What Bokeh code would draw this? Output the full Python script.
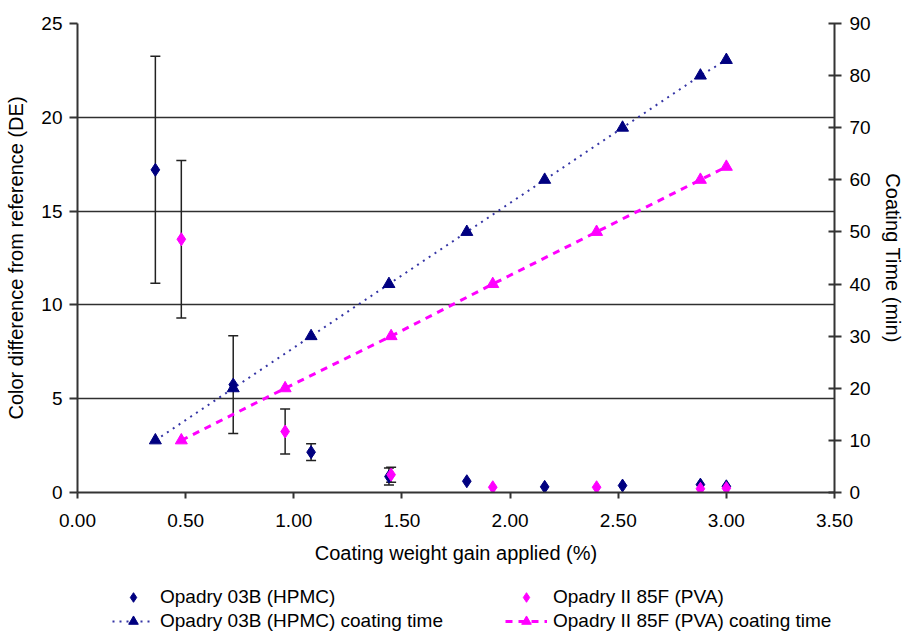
from bokeh.plotting import figure
from bokeh.layouts import column
from bokeh.models import (Range1d, LinearAxis, FixedTicker, NumeralTickFormatter,
                          ColumnDataSource, Whisker, TeeHead, Legend, LegendItem)
from bokeh.embed import file_html
from bokeh.resources import INLINE

FONT = "Liberation Sans"

# ---------------- data ----------------
x_ticks = [0.0, 0.5, 1.0, 1.5, 2.0, 2.5, 3.0, 3.5]
de_ticks = [0, 5, 10, 15, 20, 25]
time_ticks = [0, 10, 20, 30, 40, 50, 60, 70, 80, 90]

hpmc_x = [0.36, 0.72, 1.08, 1.44, 1.80, 2.16, 2.52, 2.88, 3.00]
hpmc_de = [17.2, 5.75, 2.15, 0.85, 0.60, 0.30, 0.37, 0.42, 0.33]
hpmc_err = [6.05, 2.6, 0.45, 0.45, 0.0, 0.0, 0.0, 0.0, 0.0]
hpmc_time = [10, 20, 30, 40, 50, 60, 70, 80, 83]

pva_x = [0.48, 0.96, 1.45, 1.92, 2.40, 2.88, 3.00]
pva_de = [13.5, 3.25, 0.95, 0.28, 0.28, 0.20, 0.23]
pva_err = [4.2, 1.2, 0.4, 0.0, 0.0, 0.0, 0.0]
pva_time = [10, 20, 30, 40, 50, 60, 62.5]

labels = ["Opadry 03B (HPMC)", "Opadry II 85F (PVA)",
          "Opadry 03B (HPMC) coating time", "Opadry II 85F (PVA) coating time"]

NAVY = "#000080"
MAG = "#FF00FF"
AX = "#333333"
HPMC_LINE = dict(line_color="#3535a5", line_width=2, line_dash="2 5")
PVA_LINE = dict(line_color=MAG, line_width=3, line_dash="7 6")

# ---------------- main chart ----------------
p = figure(width=906, height=570, output_backend="svg", toolbar_location=None,
           x_range=Range1d(0, 3.5), y_range=Range1d(0, 25),
           min_border_left=77, min_border_right=68, min_border_top=23,
           min_border_bottom=78)
p.extra_y_ranges = {"time": Range1d(0, 90)}
p.outline_line_color = None
p.xgrid.visible = False
p.ygrid.ticker = FixedTicker(ticks=de_ticks)
p.ygrid.grid_line_color = "#303030"
p.ygrid.grid_line_width = 1.5

raxis = LinearAxis(y_range_name="time")
p.add_layout(raxis, "right")

xa = p.xaxis[0]
ya = p.yaxis[0]
xa.ticker = FixedTicker(ticks=x_ticks)
xa.formatter = NumeralTickFormatter(format="0.00")
ya.ticker = FixedTicker(ticks=de_ticks)
raxis.ticker = FixedTicker(ticks=time_ticks)

for ax in (xa, ya, raxis):
    ax.axis_line_color = AX
    ax.axis_line_width = 2
    ax.major_tick_line_color = AX
    ax.major_tick_line_width = 2
    ax.minor_tick_line_color = None
    ax.major_label_text_font = FONT
    ax.major_label_text_font_size = "19px"
    ax.major_label_text_color = "black"
    ax.axis_label_text_font = FONT
    ax.axis_label_text_font_size = "20px"
    ax.axis_label_text_font_style = "normal"
    ax.axis_label_text_color = "black"

xa.major_tick_out = 6
xa.major_tick_in = 0
xa.major_label_standoff = 15
xa.axis_label = "Coating weight gain applied (%)"
xa.axis_label_standoff = 12

ya.major_tick_out = 8
ya.major_tick_in = 0
ya.major_label_standoff = 7
ya.axis_label = "Color difference from reference (DE)"
ya.axis_label_standoff = 11

raxis.major_tick_out = 7
raxis.major_tick_in = 6
raxis.major_label_standoff = 8
raxis.axis_label = "Coating Time (min)"
raxis.axis_label_standoff = 8

p.line(hpmc_x, hpmc_time, y_range_name="time", **HPMC_LINE)
p.line(pva_x, pva_time, y_range_name="time", **PVA_LINE)
p.scatter(hpmc_x, hpmc_time, y_range_name="time", marker="triangle", size=12, color=NAVY)
p.scatter(pva_x, pva_time, y_range_name="time", marker="triangle", size=12, color=MAG)


def err_source(xs, ys, es):
    keep = [i for i, e in enumerate(es) if e > 0]
    return ColumnDataSource(dict(
        x=[xs[i] for i in keep],
        upper=[ys[i] + es[i] for i in keep],
        lower=[ys[i] - es[i] for i in keep]))


for src in (err_source(hpmc_x, hpmc_de, hpmc_err), err_source(pva_x, pva_de, pva_err)):
    w = Whisker(source=src, base="x", upper="upper", lower="lower",
                line_color="#222222", line_width=1.5,
                upper_head=TeeHead(size=10, line_color="#222222", line_width=1.5),
                lower_head=TeeHead(size=10, line_color="#222222", line_width=1.5))
    p.add_layout(w)

p.scatter(hpmc_x, hpmc_de, marker="diamond", size=13, color=NAVY)
p.scatter(pva_x, pva_de, marker="diamond", size=13, color=MAG)

# ---------------- legend strip (same series, drawn out of view) ----------------
lg = figure(width=906, height=63, output_backend="svg", toolbar_location=None,
            x_range=Range1d(100, 101), y_range=Range1d(100, 101),
            x_axis_type=None, y_axis_type=None,
            min_border_left=0, min_border_right=0, min_border_top=0, min_border_bottom=0)
lg.outline_line_color = None
lg.grid.visible = False
l_hd = lg.scatter(hpmc_x, hpmc_de, marker="diamond", size=13, color=NAVY)
l_pd = lg.scatter(pva_x, pva_de, marker="diamond", size=13, color=MAG)
l_hl = lg.line(hpmc_x, hpmc_time, **HPMC_LINE)
l_pl = lg.line(pva_x, pva_time, **PVA_LINE)
l_ht = lg.scatter(hpmc_x, hpmc_time, marker="triangle", size=12, color=NAVY)
l_pt = lg.scatter(pva_x, pva_time, marker="triangle", size=12, color=MAG)

legend = Legend(items=[
    LegendItem(label=labels[0], renderers=[l_hd]),
    LegendItem(label=labels[2], renderers=[l_hl, l_ht]),
    LegendItem(label=labels[1], renderers=[l_pd]),
    LegendItem(label=labels[3], renderers=[l_pl, l_pt]),
], location=(35, 0), ncols=2, orientation="vertical",
    glyph_width=42, glyph_height=24, label_height=24, label_width=345,
    label_standoff=6, spacing=0, padding=0, margin=0,
    border_line_color=None, background_fill_alpha=0,
    label_text_font=FONT, label_text_font_size="19px", label_text_color="black")
lg.add_layout(legend, "center")

layout = column(p, lg, spacing=0)
open("out.html", "w").write(file_html(layout, INLINE))
